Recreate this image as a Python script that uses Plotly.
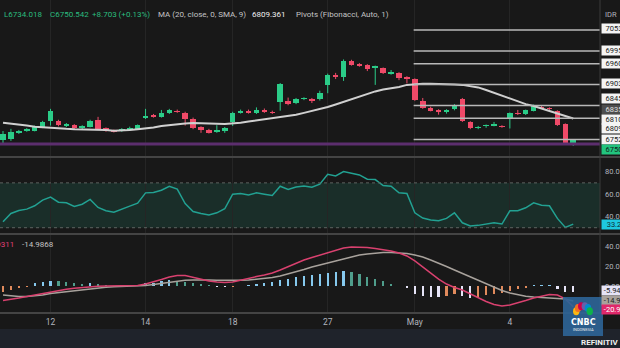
import math
import plotly.graph_objects as go

# ---------------- DATA ----------------
opens = [6750, 6753, 6769, 6775, 6776, 6786, 6803, 6802, 6789, 6791, 6782, 6787, 6805, 6782, 6777, 6775, 6778, 6781,
         6810, 6819, 6814, 6824, 6831, 6825, 6809, 6785, 6779, 6773, 6775, 6801, 6825, 6831, 6825, 6834, 6828,
         6856, 6858, 6852, 6862, 6862, 6862, 6901, 6928, 6924, 6968, 6959, 6957, 6949, 6948, 6932, 6934, 6923,
         6917, 6858, 6839, 6833, 6826, 6835, 6864, 6800, 6784, 6788, 6790, 6789, 6809, 6825, 6822, 6831, 6842,
         6838, 6829, 6794, 6741.84]
highs = [6775, 6781, 6778, 6783, 6790, 6803, 6836, 6806, 6797, 6794, 6791, 6806, 6814, 6785, 6779, 6783, 6787, 6793,
         6836, 6822, 6833, 6836, 6834, 6828, 6812, 6788, 6781, 6791, 6786, 6828, 6834, 6834, 6840, 6837, 6831,
         6907, 6867, 6866, 6868, 6866, 6886, 6933, 6935, 6972, 6971, 6962, 6959, 6955, 6950, 6943, 6937, 6926,
         6920, 6866, 6842, 6835, 6835, 6849, 6866, 6802, 6789, 6793, 6800, 6791, 6826, 6833, 6834, 6848, 6845,
         6840, 6832, 6796, 6753]
lows = [6742, 6748, 6767, 6773, 6774, 6783, 6790, 6788, 6786, 6780, 6780, 6785, 6779, 6773, 6771, 6773, 6776, 6779,
        6808, 6812, 6812, 6822, 6825, 6790, 6780, 6770, 6768, 6770, 6770, 6789, 6823, 6823, 6822, 6825, 6822,
        6831, 6846, 6849, 6860, 6852, 6859, 6879, 6918, 6913, 6955, 6952, 6940, 6902, 6932, 6930, 6915, 6906,
        6858, 6836, 6829, 6820, 6823, 6832, 6800, 6780, 6780, 6784, 6788, 6784, 6782, 6819, 6819, 6829, 6836,
        6833, 6789, 6739, 6734.018]
closes = [6767, 6771, 6775, 6780, 6787, 6800, 6829, 6791, 6793, 6783, 6788, 6802, 6781, 6775, 6773, 6781, 6784, 6791,
          6816, 6814, 6825, 6833, 6827, 6808, 6783, 6777, 6770, 6777, 6783, 6825, 6831, 6825, 6833, 6827, 6825,
          6904, 6849, 6863, 6865, 6858, 6879, 6930, 6924, 6967, 6957, 6954, 6946, 6953, 6934, 6937, 6922, 6919,
          6860, 6838, 6831, 6827, 6833, 6847, 6802, 6783, 6787, 6790, 6794, 6786, 6824, 6822, 6832, 6846, 6838,
          6835, 6792, 6741.84, 6750.542]
ma20 = [6798, 6796, 6793, 6790, 6787, 6785, 6783, 6782, 6781, 6780, 6780, 6779, 6779, 6778, 6776, 6776, 6778, 6780,
        6782, 6785, 6789, 6792, 6794, 6796, 6797, 6797, 6796, 6795, 6794, 6795, 6798, 6801, 6804, 6807, 6810,
        6813, 6816, 6820, 6825, 6830, 6836, 6841, 6848, 6855, 6863, 6871, 6878, 6884, 6889, 6892, 6896, 6902,
        6904, 6905, 6905, 6905, 6904, 6903, 6902, 6899, 6895, 6888, 6880, 6873, 6865, 6858, 6849, 6844, 6837,
        6831, 6825, 6817, 6809.361]
rsi = [35.3, 42.7, 45.4, 46.6, 49.6, 54.6, 57.3, 52.8, 52.2, 49.0, 51.0, 55.2, 48.1, 45.1, 43.9, 46.9, 49.3, 51.9,
       61.1, 61.4, 63.5, 67.0, 64.4, 51.6, 44.5, 42.7, 41.3, 43.3, 46.9, 59.9, 60.5, 59.3, 61.1, 59.9, 58.7,
       67.0, 64.1, 66.4, 67.3, 66.1, 68.8, 77.7, 76.2, 80.1, 78.6, 77.1, 73.3, 73.0, 67.6, 67.0, 61.1, 60.5,
       43.3, 38.6, 36.8, 36.2, 38.3, 43.3, 34.4, 31.5, 32.1, 33.3, 34.4, 33.3, 45.1, 45.1, 47.8, 52.2, 50.1,
       49.6, 38.3, 30.3, 33.2]
macd = [-14.5, -13.5, -12, -10.5, -9, -7.4, -5.4, -4.4, -3.1, -2.1, -1.3, -0.6, -0.1, 0.2, 0.2, 0.2, 0.2, 0.7,
        2.2, 4.3, 6.8, 9.3, 10.9, 10.9, 8.8, 6.8, 5.3, 4.3, 3.8, 4.3, 6.3, 8.3, 9.8, 11.4, 13.4,
        16.4, 20, 23.5, 26.6, 29.1, 31.7, 34.2, 36.8, 38.8, 39.8, 39.8, 39.3, 38.3, 37.3, 35.7, 33.7, 30.7,
        25.6, 19.5, 13.4, 7.3, 2.2, -1.3, -3.9, -7.9, -12, -15.5, -18.6, -20.1, -19.1, -17.1, -14.5, -12, -9.9,
        -8.4, -8.9, -12.9, -20.9311]
signal = [-8.9, -10, -10.5, -10.5, -10, -8.9, -7.4, -6.4, -5.4, -4.4, -3.4, -2.5, -1.8, -1.1, -0.6, -0.3, 0, 0.2,
          0.7, 1.7, 2.7, 4.3, 5.3, 6, 6.3, 6.5, 6.3, 6, 5.8, 5.8, 6, 6.3, 7, 7.8, 8.8,
          10.4, 12.4, 14.4, 17, 19.5, 21.5, 24.1, 26.1, 28.1, 30.2, 31.7, 32.7, 33.7, 34.2, 34.2, 33.9, 33.2,
          31.7, 29.6, 26.6, 23.6, 20, 16.4, 12.9, 9.3, 5.8, 2.2, -1.3, -4.4, -6.9, -8.9, -10.3, -11, -11.5,
          -12, -12.3, -13, -14.9868]
hist = [-6, -4, -2, -0.5, 3, 4, 5.7, 5, 4, 3.3, 2.7, 3.7, 2.3, 1.3, 0.7, 0.4, 0.3, 1.7,
        3.3, 3.4, 5, 6.7, 5, 4.3, 3.3, 2, 1, -0.5, -0.8, -0.3, 0.5, 1.5, 2.5, 3.5, 4.5,
        6, 7.5, 9, 10, 11, 12, 13, 14, 15, 14, 12, 9.5, 7, 5, 2.5, 0.5, -2,
        -8.3, -10, -10.5, -11, -10, -8.3, -10, -11.7, -10.7, -9, -8.3, -6.7, -5, -3.3, -1.5, 1, 1.5,
        1.6, -3.3, -5.7, -5.9427]

tick_idx = [6, 18, 29, 41, 52, 64]
tick_text = ["12", "14", "18", "27", "May", "4"]

pivot_levels = [7053, 6995, 6960, 6903, 6845, 6810, 6752]
pivot_start = 52
purple_level = 6739

price_label_text = ["7053", "6995", "6960", "6903", "6845", "6835", "6810", "6809", "6752", "6750"]
price_label_vals = [7053, 6995, 6960, 6903, 6845, 6835, 6810, 6809.361, 6752, 6750.542]
rsi_ticks = [80, 60, 40]
macd_ticks = [40, 20, 0]
macd_tick_text = ["40.0", "20.0", "0.00"]

# ---------------- STYLE / LAYOUT HELPERS ----------------
W, H = 620, 348
BG = "#181818"
GREEN = "#2bcc88"
RED = "#ef4a68"
TXT = "#b2b5be"
FONT = "Roboto"


def px(xp):
    return xp / W


def py(yp):
    return 1 - yp / H


idx = list(range(len(closes)))
n = len(closes)

fig = go.Figure()

# ---- Price panel: candles built from OHLC ----
up = [c >= o for o, c in zip(opens, closes)]
for is_up, col in ((True, GREEN), (False, RED)):
    wx, wy = [], []
    for i in idx:
        if up[i] == is_up:
            wx += [i, i, None]
            wy += [lows[i], highs[i], None]
    fig.add_trace(go.Scatter(x=wx, y=wy, mode="lines", line=dict(color=col, width=1),
                             xaxis="x", yaxis="y", showlegend=False, hoverinfo="skip"))
body_base = [min(o, c) for o, c in zip(opens, closes)]
body_len = [max(abs(c - o), 3) for o, c in zip(opens, closes)]
body_col = [GREEN if u else RED for u in up]
fig.add_trace(go.Bar(x=idx, y=body_len, base=body_base, width=0.7,
                     marker=dict(color=body_col, line=dict(width=0)),
                     xaxis="x", yaxis="y", showlegend=False, hoverinfo="skip"))
fig.add_trace(go.Scatter(x=idx, y=ma20, mode="lines", line=dict(color="#d0d0d0", width=2),
                         xaxis="x", yaxis="y", showlegend=False, hoverinfo="skip"))
for lv in pivot_levels:
    fig.add_trace(go.Scatter(x=[pivot_start - 0.15, n + 5], y=[lv, lv], mode="lines",
                             line=dict(color="#b8b8b8", width=1.5), xaxis="x", yaxis="y",
                             showlegend=False, hoverinfo="skip"))
fig.add_trace(go.Scatter(x=[-2, n + 5], y=[purple_level, purple_level], mode="lines",
                         line=dict(color="#5c2e6e", width=3), xaxis="x", yaxis="y",
                         showlegend=False, hoverinfo="skip"))

# ---- RSI panel ----
fig.add_trace(go.Scatter(x=idx, y=rsi, mode="lines", line=dict(color="#22a192", width=1.5),
                         xaxis="x2", yaxis="y2", showlegend=False, hoverinfo="skip"))

# ---- MACD panel ----
hist_colors = []
for i, h in enumerate(hist):
    prev = hist[i - 1] if i > 0 else h
    if h >= 0:
        hist_colors.append("#86c9ee" if h >= prev else "#4f9e8c")
    else:
        hist_colors.append("#e6e4f7" if h < prev else "#e08a5c")
fig.add_trace(go.Bar(x=idx, y=hist, marker=dict(color=hist_colors, line=dict(width=0)), width=0.28,
                     xaxis="x3", yaxis="y3", showlegend=False, hoverinfo="skip"))
fig.add_trace(go.Scatter(x=idx, y=signal, mode="lines", line=dict(color="#a8a29c", width=1.5),
                         xaxis="x3", yaxis="y3", showlegend=False, hoverinfo="skip"))
fig.add_trace(go.Scatter(x=idx, y=macd, mode="lines", line=dict(color="#d9416f", width=1.5),
                         xaxis="x3", yaxis="y3", showlegend=False, hoverinfo="skip"))

xr = [-0.38, 75.38]
grid = "#252525"
common_x = dict(range=xr, tickvals=tick_idx, ticktext=tick_text, showgrid=True, gridcolor=grid,
                gridwidth=1, zeroline=False, showline=False, ticks="", domain=[0, px(600)], fixedrange=True)
common_y = dict(showgrid=False, zeroline=False, showline=False, showticklabels=False, ticks="", fixedrange=True)

shapes = []
shapes.append(dict(type="rect", xref="paper", yref="y2", x0=0, x1=px(600), y0=30, y1=70,
                   fillcolor="#1a2e29", line=dict(width=0), layer="below"))
for lv in (70, 30):
    shapes.append(dict(type="line", xref="paper", yref="y2", x0=0, x1=px(600), y0=lv, y1=lv,
                       line=dict(color="#5e6460", width=1, dash="dot")))
for yp in (157, 234, 313):
    shapes.append(dict(type="line", xref="paper", yref="paper", x0=0, x1=1, y0=py(yp), y1=py(yp),
                       line=dict(color="#444444", width=2)))
shapes.append(dict(type="line", xref="paper", yref="paper", x0=px(600), x1=px(600), y0=py(0), y1=py(313),
                   line=dict(color="#3a3a3a", width=1)))
shapes.append(dict(type="rect", xref="paper", yref="paper", x0=0, x1=1, y0=0, y1=py(329),
                   fillcolor="#1f232b", line=dict(width=0)))
shapes.append(dict(type="rect", xref="paper", yref="paper", x0=px(563), x1=px(603), y0=py(336), y1=py(297),
                   fillcolor="#2e6496", opacity=0.92, line=dict(width=0)))
feather_cols = ["#fcb711", "#f37021", "#cc004c", "#6460aa", "#0089d0", "#0db14b"]
for k, c in enumerate(feather_cols):
    ang = math.radians(165 - k * 30)
    cx = 583 + 7 * math.cos(ang)
    cy = 313 - 7 * math.sin(ang)
    shapes.append(dict(type="circle", xref="paper", yref="paper",
                       x0=px(cx - 3.2), x1=px(cx + 3.2), y0=py(cy + 4), y1=py(cy - 4),
                       fillcolor=c, line=dict(width=0)))

annotations = []
hdr = [(2, "L6734.018", "#2bbd7e"), (48, "C6750.542", "#2bbd7e"), (90, "+8.703 (+0.13%)", "#2bbd7e"),
       (156, "MA (20, close, 0, SMA, 9)", "#c4c4c4"), (250, "6809.361", "#f0f0f0"),
       (294, "Pivots (Fibonacci, Auto, 1)", "#c4c4c4")]
for xp, t, c in hdr:
    annotations.append(dict(xref="paper", yref="paper", x=px(xp), y=py(14), xanchor="left", yanchor="middle",
                            text=t, showarrow=False, font=dict(family=FONT, size=8, color=c)))
annotations.append(dict(xref="paper", yref="paper", x=px(603), y=py(14), xanchor="left", yanchor="middle",
                        text="IDR", showarrow=False, font=dict(family=FONT, size=7.5, color=TXT)))

label_style = {"6835": ("#4d4d4d", "#e0e0e0"), "6750": ("#22c47e", "#10231a")}
yshifts = [2, 1, 0, 1, 7, 0, -1, -10, 0, -10]
for t, v, ys in zip(price_label_text, price_label_vals, yshifts):
    bg, fc = label_style.get(t, ("#f4f4f4", "#1a1a1a"))
    annotations.append(dict(xref="paper", yref="y", x=px(601), y=v, yshift=ys, xanchor="left",
                            yanchor="middle", text=t, showarrow=False, bgcolor=bg, borderpad=0,
                            width=24, align="center", font=dict(family=FONT, size=7.5, color=fc)))

for v in rsi_ticks:
    annotations.append(dict(xref="paper", yref="y2", x=px(603), y=v, xanchor="left", yanchor="middle",
                            text=f"{v:.1f}", showarrow=False, font=dict(family=FONT, size=7.5, color=TXT)))
annotations.append(dict(xref="paper", yref="y2", x=px(601), y=rsi[-1], xanchor="left", yanchor="middle",
                        text=f"{rsi[-1]:.1f}", showarrow=False, bgcolor="#1ec8e0", borderpad=0,
                        width=24, align="center", font=dict(family=FONT, size=7.5, color="#0f2a30")))

for v, t in zip(macd_ticks, macd_tick_text):
    annotations.append(dict(xref="paper", yref="y3", x=px(603), y=v, xanchor="left", yanchor="middle",
                            text=t, showarrow=False, font=dict(family=FONT, size=7.5, color=TXT)))
macd_boxes = [(hist[-1], "#e6e4f7", "#1a1a1a", 1.5), (signal[-1], "#a8a29c", "#1a1a1a", 0),
              (macd[-1], "#e0286a", "#ffffff", -3)]
for v, bg, fc, ys in macd_boxes:
    annotations.append(dict(xref="paper", yref="y3", x=px(601), y=v, yshift=ys, xanchor="left",
                            yanchor="middle", text="\u00a0" + f"{v:.2f}", showarrow=False, bgcolor=bg,
                            borderpad=0, width=30, align="left", font=dict(family=FONT, size=7.5, color=fc)))
annotations.append(dict(xref="paper", yref="paper", x=px(16), y=py(245), xanchor="right", yanchor="middle",
                        text=f"{macd[-1]:.4f}", showarrow=False, font=dict(family=FONT, size=8, color="#e0407a")))
annotations.append(dict(xref="paper", yref="paper", x=px(20), y=py(245), xanchor="left", yanchor="middle",
                        text=f"{signal[-1]:.4f}", showarrow=False, font=dict(family=FONT, size=8, color="#c4c4c4")))

annotations.append(dict(xref="paper", yref="paper", x=px(583), y=py(322), xanchor="center", yanchor="middle",
                        text="<b>CNBC</b>", showarrow=False, font=dict(family="DejaVu Sans", size=8, color="#ffffff")))
annotations.append(dict(xref="paper", yref="paper", x=px(583), y=py(329), xanchor="center", yanchor="middle",
                        text="INDONESIA", showarrow=False, font=dict(family=FONT, size=4, color="#e8e8e8")))
annotations.append(dict(xref="paper", yref="paper", x=px(579), y=py(342), xanchor="left", yanchor="middle",
                        text="<b>REFINITIV</b>", showarrow=False, font=dict(family=FONT, size=8, color="#f0f0f0")))

fig.update_layout(
    width=W, height=H, margin=dict(l=0, r=0, t=0, b=0),
    paper_bgcolor=BG, plot_bgcolor=BG, hovermode=False, showlegend=False, bargap=0, barmode="overlay",
    xaxis=dict(**common_x, anchor="y", showticklabels=False),
    xaxis2=dict(**common_x, anchor="y2", showticklabels=False, matches="x"),
    xaxis3=dict(**common_x, anchor="y3", showticklabels=True, matches="x",
                tickfont=dict(family=FONT, size=8.5, color=TXT), ticklabelstandoff=2),
    yaxis=dict(**common_y, domain=[py(157), 1], range=[6703.5, 7135.6]),
    yaxis2=dict(**common_y, domain=[py(234), py(157)], range=[24.4, 93.1]),
    yaxis3=dict(**common_y, domain=[py(313), py(234)], range=[-27.2, 53]),
    shapes=shapes, annotations=annotations,
)

fig.write_html("out.html", config={"displayModeBar": False, "staticPlot": True})
